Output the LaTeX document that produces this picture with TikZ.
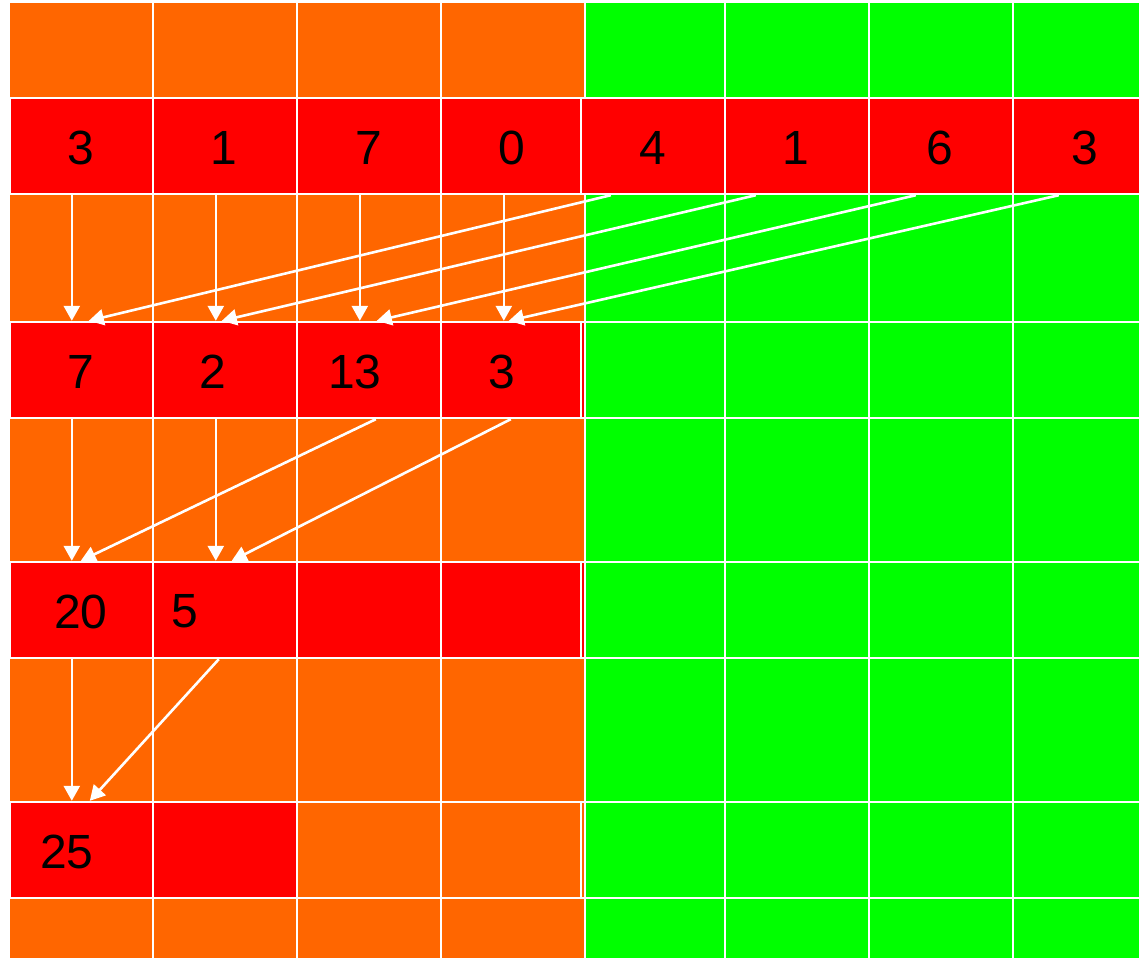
\documentclass[tikz,border=0pt]{standalone}
\usepackage{fontspec}
\setmainfont{Liberation Sans}
\usetikzlibrary{arrows.meta,calc}
\definecolor{cellorange}{HTML}{FF6600}
\definecolor{cellgreen}{HTML}{00FF00}
\definecolor{cellred}{HTML}{FF0000}

\begin{document}
\begin{tikzpicture}[x=0.5pt,y=-0.5pt,
 grid/.style={draw=white,line width=1.2pt},
 cell/.style={draw=white,line width=1.2pt,fill=cellred,inner sep=0pt,minimum height=48pt,minimum width=72pt},
 num/.style={inner sep=0pt,text=black,font=\fontsize{24}{28}\selectfont},
 arr/.style={draw=white,line width=1.3pt,-{Triangle[width=8pt,length=7.5pt]}}]
\useasboundingbox (0,0) rectangle (1139,958);
\clip (0,0) rectangle (1139,958);
\fill[white] (0,0) rectangle (1139,958);
\fill[cellorange] (10,3) rectangle (585,958);
\fill[cellgreen] (585,3) rectangle (1139,958);
\foreach \x in {153,297,441,585,725,869,1013} \draw[grid] (\x,3) -- (\x,958);
\foreach \y in {98,194,322,418,562,658,802,898} \draw[grid] (10,\y) -- (1139,\y);
\draw[grid] (581,802) -- (581,898);

% first row
\node[cell,minimum width=71.5pt] (a0) at (81.5,146) {};
\node[cell] (a1) at (225,146) {};
\node[cell] (a2) at (369,146) {};
\node[cell,minimum width=70pt] (a3) at (511,146) {};
\node[cell] (a4) at (653,146) {};
\node[cell] (a5) at (797,146) {};
\node[cell] (a6) at (941,146) {};
\node[cell] (a7) at (1085,146) {};
% sums of pairs
\fill[cellred] (582,323) rectangle (584,417);
\node[cell,minimum width=71.5pt] (b0) at (81.5,370) {};
\node[cell] (b1) at (225,370) {};
\node[cell] (b2) at (369,370) {};
\node[cell,minimum width=70pt] (b3) at (511,370) {};
\fill[cellred] (582,563) rectangle (584,657);
\node[cell,minimum width=71.5pt] (c0) at (81.5,610) {};
\node[cell] (c1) at (225,610) {};
\node[cell] (c2) at (369,610) {};
\node[cell,minimum width=70pt] (c3) at (511,610) {};
\node[cell,minimum width=71.5pt] (d0) at (81.5,850) {};
\node[cell] (d1) at (225,850) {};

\node[num] at (80.5,147.5) {3};
\node[num] at (224,147.5) {1};
\node[num] at (369,147.5) {7};
\node[num] at (511.5,147.5) {0};
\node[num] at (652.5,147.5) {4};
\node[num] at (796,147.5) {1};
\node[num] at (940,147.5) {6};
\node[num] at (1084.5,147.5) {3};
\node[num] at (81,371.5) {7};
\node[num] at (212.5,371.5) {2};
\node[num] at (355,371.5) {13};
\node[num] at (502,371.5) {3};
\node[num] at (81,611.5) {20};
\node[num] at (185,611.5) {5};
\node[num] at (67,851.5) {25};

% arrows
\draw[arr] ($(a0.south west)+(63,0)$) -- ($(b0.north west)+(63,0)$);
\draw[arr] ($(a1.south west)+(64,0)$) -- ($(b1.north west)+(64,0)$);
\draw[arr] ($(a2.south west)+(64,0)$) -- ($(b2.north west)+(64,0)$);
\draw[arr] ($(a3.south west)+(64,0)$) -- ($(b3.north west)+(64,0)$);
\draw[arr] ($(a4.south west)+(31,0)$) -- ($(b0.north west)+(80,0)$);
\draw[arr] ($(a5.south west)+(32,0)$) -- ($(b1.north west)+(70,0)$);
\draw[arr] ($(a6.south west)+(48,0)$) -- ($(b2.north west)+(81,0)$);
\draw[arr] ($(a7.south west)+(47,0)$) -- ($(b3.north west)+(69,0)$);
\draw[arr] ($(b0.south west)+(63,0)$) -- ($(c0.north west)+(63,0)$);
\draw[arr] ($(b1.south west)+(64,0)$) -- ($(c1.north west)+(64,0)$);
\draw[arr] ($(b2.south west)+(80,0)$) -- ($(c0.north west)+(72,0)$);
\draw[arr] ($(b3.south west)+(71,0)$) -- ($(c1.north west)+(80,0)$);
\draw[arr] ($(c0.south west)+(63,0)$) -- ($(d0.north west)+(63,0)$);
\draw[arr] ($(c1.south west)+(67,0)$) -- ($(d0.north west)+(81,0)$);
\end{tikzpicture}
\end{document}
